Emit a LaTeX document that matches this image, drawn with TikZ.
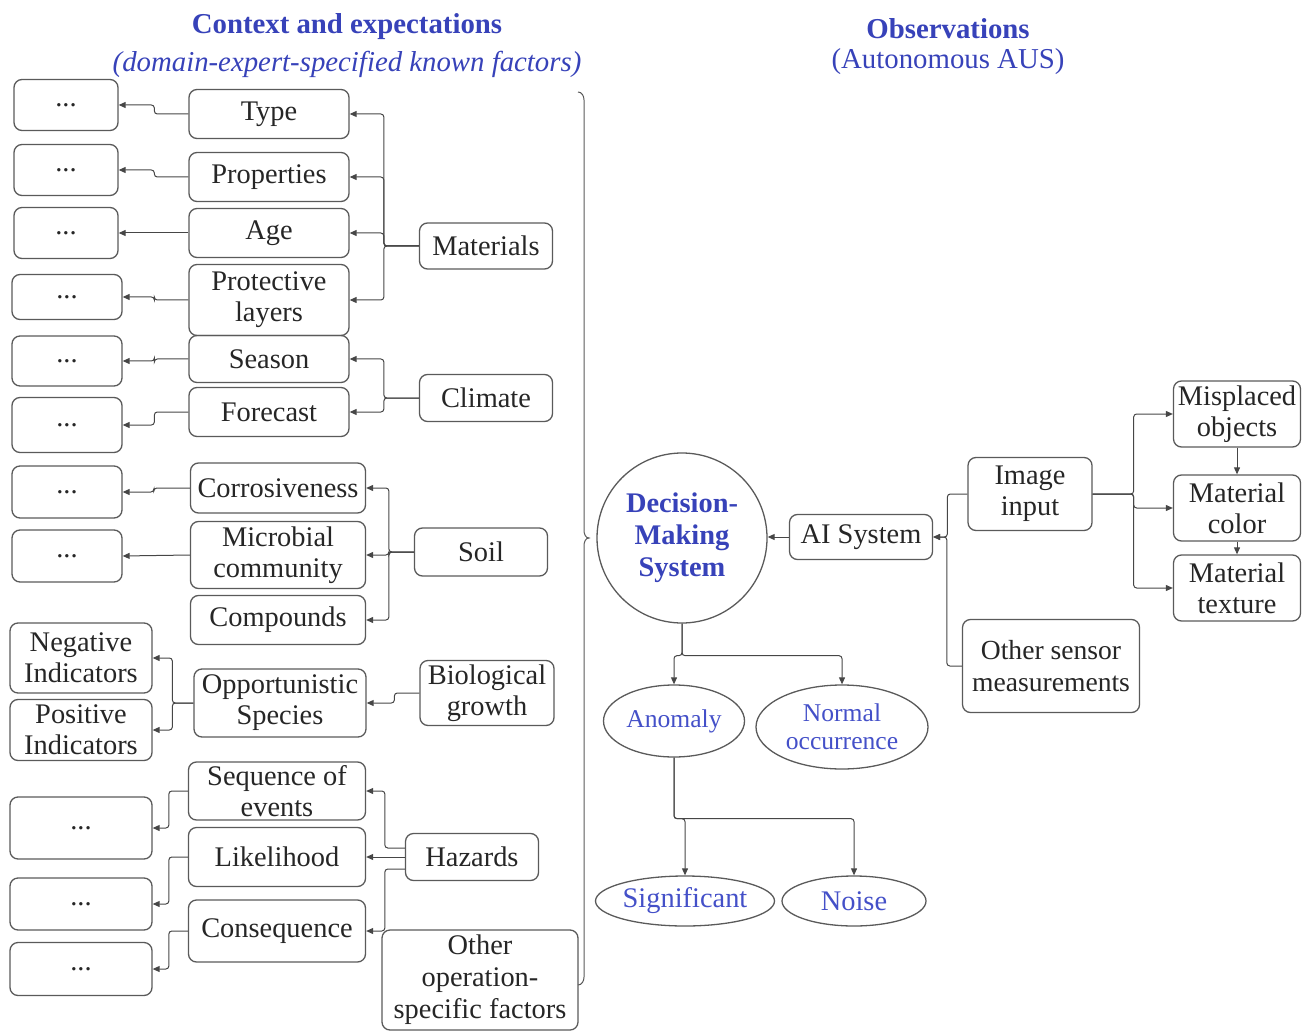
\documentclass[tikz,border=0pt]{standalone}
\usepackage{fontspec}
\setmainfont{LiberationSerif}[Extension=.ttf,UprightFont=*-Regular,BoldFont=*-Bold,ItalicFont=*-Italic,BoldItalicFont=*-BoldItalic]
\usetikzlibrary{arrows.meta,shapes.geometric}

\definecolor{titleblue}{RGB}{55,66,185}
\definecolor{ovalblue}{RGB}{68,80,200}
\definecolor{edgegray}{RGB}{90,90,90}
\definecolor{linegray}{RGB}{70,70,70}

\begin{document}
\begin{tikzpicture}[x=0.5pt,y=-0.5pt,
  box/.style={draw=edgegray,line width=0.65pt,rounded corners=4pt,align=center,inner sep=1pt,text=black!85,font=\fontsize{14.2}{15.5}\selectfont},
  oval/.style={ellipse,draw=edgegray,line width=0.65pt,inner sep=0pt,align=center,text=ovalblue,font=\fontsize{14.2}{15.5}\selectfont},
  conn/.style={draw=linegray,line width=0.5pt,rounded corners=1.5pt,-{Triangle[length=3.5pt,width=3pt]}},
  heading/.style={text=titleblue,font=\fontsize{14.4}{17}\selectfont}]

\useasboundingbox (0,0) rectangle (1309,1031);

% headings
\node[heading] (ctx) at (347,27) {\bfseries Context and expectations};
\node[heading] (ctxsub) at (347,64) {\itshape (domain-expert-specified known factors)};
\node[heading] (obs) at (948,29) {\bfseries Observations};
\node[heading] (obssub) at (948,62) {(Autonomous AUS)};

% open ends on the far left
\node[box,minimum width=52pt,minimum height=25.5pt] (d1) at (66,105) {...};
\node[box,minimum width=52pt,minimum height=25.5pt] (d2) at (66,170) {...};
\node[box,minimum width=52pt,minimum height=25.5pt] (d3) at (66,233) {...};
\node[box,minimum width=55pt,minimum height=22.5pt] (d4) at (67,297) {...};
\node[box,minimum width=55pt,minimum height=25pt] (d5) at (67,361) {...};
\node[box,minimum width=55pt,minimum height=27.5pt] (d6) at (67,425) {...};
\node[box,minimum width=55pt,minimum height=26pt] (d7) at (67,492) {...};
\node[box,minimum width=55pt,minimum height=26pt] (d8) at (67,556) {...};
\node[box,minimum width=71pt,minimum height=35pt] (neg) at (81,658) {Negative\\Indicators};
\node[box,minimum width=71pt,minimum height=30.5pt] (pos) at (81,730) {Positive\\Indicators};
\node[box,minimum width=71pt,minimum height=31pt] (d9) at (81,828) {...};
\node[box,minimum width=71pt,minimum height=26pt] (d10) at (81,904) {...};
\node[box,minimum width=71pt,minimum height=26.5pt] (d11) at (81,969) {...};

% known factors
\node[box,minimum width=80pt,minimum height=24.5pt] (type) at (269,114) {Type};
\node[box,minimum width=80pt,minimum height=24.5pt] (prop) at (269,177) {Properties};
\node[box,minimum width=80pt,minimum height=24.5pt] (age) at (269,233) {Age};
\node[box,minimum width=80pt,minimum height=35.5pt] (prot) at (269,300) {Protective\\layers};
\node[box,minimum width=80pt,minimum height=23.5pt] (season) at (269,359) {Season};
\node[box,minimum width=80pt,minimum height=24.5pt] (fcast) at (269,412) {Forecast};
\node[box,minimum width=87.5pt,minimum height=25pt] (corr) at (278,488) {Corrosiveness};
\node[box,minimum width=87.5pt,minimum height=33.5pt] (micro) at (278,555) {Microbial\\community};
\node[box,minimum width=87.5pt,minimum height=24.5pt] (comp) at (278,620) {Compounds};
\node[box,minimum width=86pt,minimum height=34pt] (opp) at (280,703) {Opportunistic\\Species};
\node[box,minimum width=88.5pt,minimum height=29pt] (seq) at (277,791) {Sequence of\\events};
\node[box,minimum width=88.5pt,minimum height=29.5pt] (like) at (277,857) {Likelihood};
\node[box,minimum width=88.5pt,minimum height=31pt] (conseq) at (277,931) {Consequence};

\node[box,minimum width=66.5pt,minimum height=23pt] (mat) at (486,246) {Materials};
\node[box,minimum width=66.5pt,minimum height=23.5pt] (clim) at (486,398) {Climate};
\node[box,minimum width=66.5pt,minimum height=24pt] (soil) at (481,552) {Soil};
\node[box,minimum width=67pt,minimum height=32.5pt] (bio) at (487,693) {Biological\\growth};
\node[box,minimum width=66.5pt,minimum height=23.5pt] (haz) at (472,857) {Hazards};
\node[box,minimum width=98pt,minimum height=50pt,font=\fontsize{14.2}{16}\selectfont] (other) at (480,980) {Other\\operation-\\specific factors};

% brace between the two halves
\draw[edgegray,line width=0.5pt] (578,92) to[out=0,in=90] (584,100) -- (584,530)
  to[out=-90,in=180] (589,538) to[out=180,in=90] (584,546) -- (584,977) to[out=-90,in=0] (578,985);

% observations
\node[circle,draw=edgegray,line width=0.65pt,minimum size=85pt,inner sep=0pt,align=center,text=titleblue,font=\fontsize{14.2}{16}\selectfont\bfseries] (dms) at (682,538) {Decision-\\Making\\System};
\node[box,minimum width=71.5pt,minimum height=22.5pt] (ai) at (861,537) {AI System};
\node[box,minimum width=62pt,minimum height=36.5pt] (img) at (1030,494) {Image\\input};
\node[box,minimum width=88.5pt,minimum height=46.5pt,font=\fontsize{13.8}{16}\selectfont] (sens) at (1051,666) {Other sensor\\measurements};
\node[box,minimum width=63.5pt,minimum height=33pt] (mis) at (1237,414) {Misplaced\\objects};
\node[box,minimum width=63.5pt,minimum height=33pt] (col) at (1237,508) {Material\\color};
\node[box,minimum width=63.5pt,minimum height=33pt] (tex) at (1237,588) {Material\\texture};

\node[oval,minimum width=70.5pt,minimum height=36pt,font=\fontsize{12.8}{14}\selectfont] (anom) at (674,721) {Anomaly};
\node[oval,minimum width=86pt,minimum height=42pt,font=\fontsize{12.8}{14}\selectfont] (norm) at (842,727) {Normal\\occurrence};
\node[oval,minimum width=89.5pt,minimum height=25pt] (sig) at (685,901) {Significant};
\node[oval,minimum width=72pt,minimum height=25pt] (noise) at (854,901) {Noise};

% factor groups
\foreach \n in {type,prop,age,prot}
  \draw[conn] (mat.west) -- ++(-35,0) |- (\n.east);
\foreach \n in {season,fcast}
  \draw[conn] (clim.west) -- ++(-35,0) |- (\n.east);
\foreach \n in {corr,micro,comp}
  \draw[conn] (soil.west) -- ++(-25,0) |- (\n.east);
\draw[conn] (bio.west) -- ++(-25,0) |- (opp.east);
\foreach \n in {neg,pos}
  \draw[conn] (opp.west) -- ++(-21,0) |- (\n.east);
\draw[conn] ([yshift=4.5pt]haz.west) -- ++(-20,0) |- (seq.east);
\draw[conn] (haz.west) -- (like.east);
\draw[conn] ([yshift=-6pt]haz.west) -- ++(-20,0) |- (conseq.east);

% to the open ends
\draw[conn] (type.west) -- ++(-34,0) |- (d1.east);
\draw[conn] (prop.west) -- ++(-34,0) |- (d2.east);
\draw[conn] (age.west) -- (d3.east);
\draw[conn] (prot.west) -- ++(-34,0) |- (d4.east);
\draw[conn] (season.west) -- ++(-34,0) |- (d5.east);
\draw[conn] (fcast.west) -- ++(-34,0) |- (d6.east);
\draw[conn] (corr.west) -- ++(-36,0) |- (d7.east);
\draw[conn] (micro.west) -- (d8.east);
\draw[conn] (seq.west) -- ++(-19,0) |- (d9.east);
\draw[conn] (like.west) -- ++(-19,0) |- (d10.east);
\draw[conn] (conseq.west) -- ++(-19,0) |- (d11.east);

% observation chain
\draw[conn] (ai.west) -- (ai.west -| dms.east);
\draw[conn] (img.west) -- ++(-20,0) |- (ai.east);
\draw[conn] (sens.west) -- ++(-15,0) |- (ai.east);
\foreach \n in {mis,col,tex}
  \draw[conn] (img.east) -- ++(41,0) |- (\n.west);
\draw[conn] (mis.south) -- (col.north);
\draw[conn] (col.south) -- (tex.north);
\foreach \n in {anom,norm}
  \draw[conn] (dms.south) -- ++(0,32) -| (\n.north);
\foreach \n in {sig,noise}
  \draw[conn] (anom.south) -- ++(0,61) -| (\n.north);

\end{tikzpicture}
\end{document}
